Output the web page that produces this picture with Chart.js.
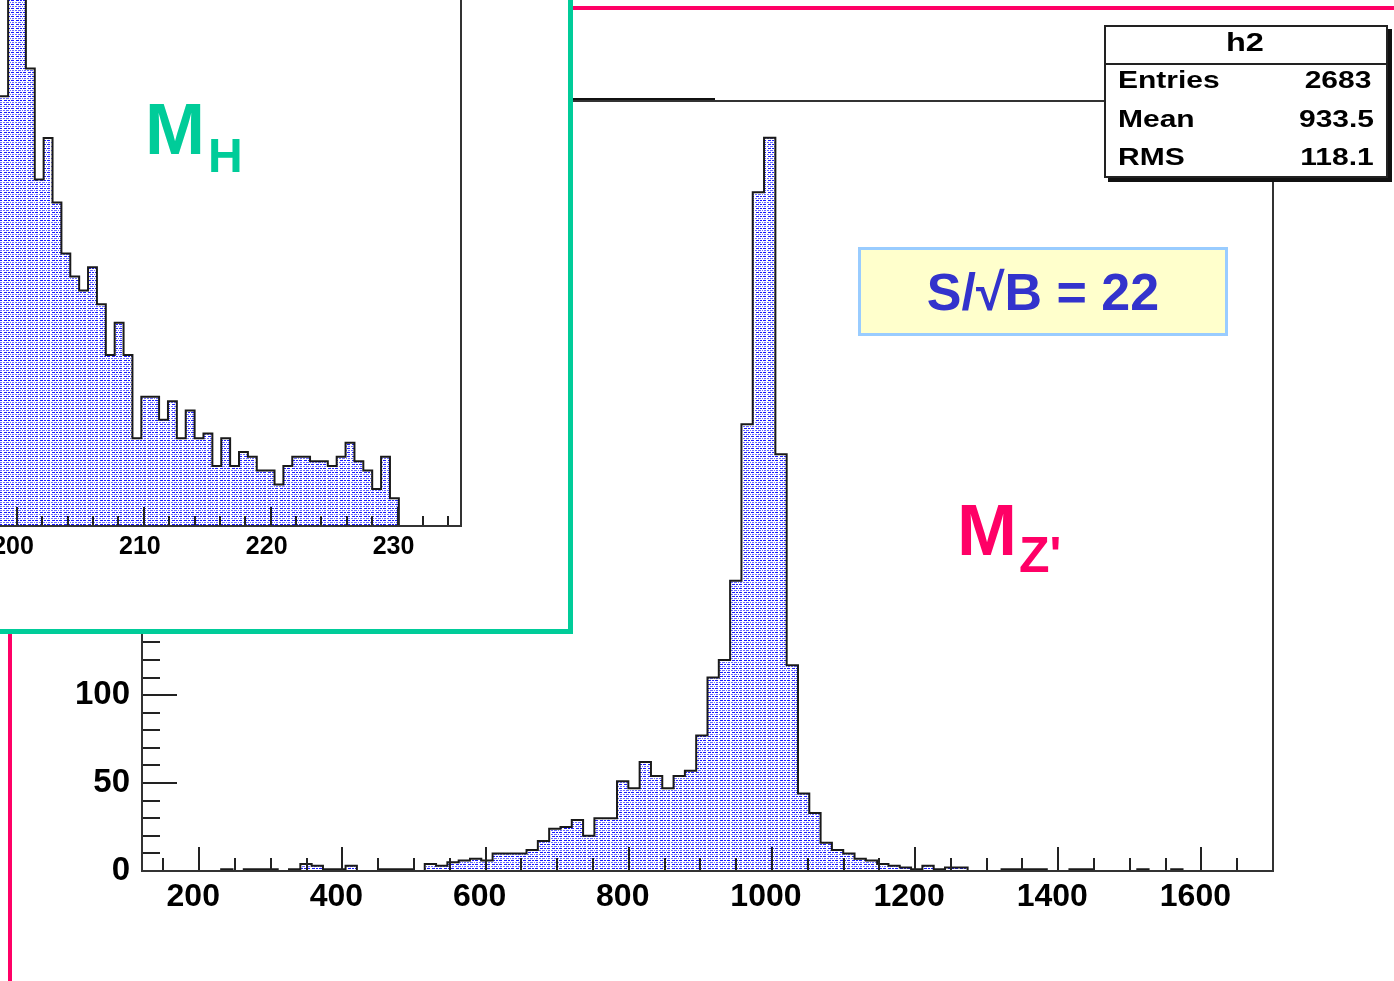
<!DOCTYPE html>
<html>
<head>
<meta charset="utf-8">
<script src="https://cdn.jsdelivr.net/npm/chart.js@4.4.1/dist/chart.umd.min.js"></script>
<style>
  html, body { margin: 0; padding: 0; background: #fff; }
  body { width: 1394px; height: 981px; position: relative; overflow: hidden;
         font-family: 'Liberation Sans', Arial, Helvetica, sans-serif; font-weight: bold; }
  #mainCanvas { position: absolute; left: 0; top: 0; }
  #padBorder { position: absolute; left: 8px; top: 6px; width: 1500px; height: 1100px;
               border-left: 4px solid #ff0066; border-top: 4px solid #ff0066; }
  #frameStub { position: absolute; left: 571px; top: 98px; width: 144px; height: 2px; background: #111; }
  #inset { position: absolute; left: 0; top: 0; width: 568px; height: 629px; background: #fff;
           border-right: 5px solid #00cc99; border-bottom: 5px solid #00cc99; overflow: hidden; }
  #insetCanvas { position: absolute; left: -440px; top: -180px; }
  .txt { position: absolute; white-space: nowrap; line-height: 1; }
  #stats { position: absolute; left: 1104px; top: 25px; width: 280px; height: 149px;
           border: 2px solid #222; background: #fff; box-shadow: 4px 4px 0 0 #111; }
  #statsSep { position: absolute; left: 1104px; top: 63px; width: 284px; height: 2px; background: #222; }
  .st { font-size: 24px; color: #000; }
  .stL { transform: scaleX(1.25); transform-origin: left top; }
  .stR { transform: scaleX(1.25); transform-origin: right top; }
  #sb { position: absolute; left: 858px; top: 247px; width: 364px; height: 83px;
        background: #ffffcc; border: 3px solid #99ccff; display: flex; align-items: center;
        justify-content: center; color: #3333cc; font-size: 52px; }
</style>
</head>
<body>
<canvas id="mainCanvas" width="1394" height="981"></canvas>
<div id="padBorder"></div>
<div id="frameStub"></div>

<div id="stats"></div>
<div id="statsSep"></div>
<div class="txt st stL" style="left:1226px; top:29px; font-size:26px;">h2</div>
<div class="txt st stL" style="left:1118px; top:68px;">Entries</div>
<div class="txt st stR" style="right:23px; top:68px;">2683</div>
<div class="txt st stL" style="left:1118px; top:107px;">Mean</div>
<div class="txt st stR" style="right:20px; top:107px;">933.5</div>
<div class="txt st stL" style="left:1118px; top:145px;">RMS</div>
<div class="txt st stR" style="right:20px; top:145px;">118.1</div>

<div id="sb">S/√B = 22</div>

<div class="txt" style="left:957px; top:494px; font-size:72px; color:#ff0066;">M</div>
<div class="txt" style="left:1019px; top:530px; font-size:50px; color:#ff0066;">Z'</div>

<div id="inset">
  <canvas id="insetCanvas" width="1010" height="812"></canvas>
  <div class="txt" style="left:145px; top:93px; font-size:72px; color:#00cc99;">M</div>
  <div class="txt" style="left:208px; top:132px; font-size:48px; color:#00cc99;">H</div>
</div>

<script>
// ---- main histogram h2: 100 bins over [120, 1700] ----
const mainRange = [120, 1700];
const mainCounts = [
  0, 0, 0, 0, 0, 0, 0, 1, 0, 1,
  1, 1, 0, 1, 4, 3, 1, 1, 3, 0,
  0, 1, 1, 1, 0, 4, 3, 5, 6, 7,
  6, 10, 10, 10, 12, 17, 24, 25, 29, 20,
  30, 30, 51, 47, 62, 54, 47, 54, 57, 77,
  110, 120, 165, 254, 386, 417, 237, 117, 44, 33,
  16, 12, 10, 7, 6, 4, 3, 2, 1, 3,
  1, 2, 2, 0, 0, 0, 1, 1, 1, 1,
  0, 0, 1, 1, 0, 0, 0, 0, 1, 0,
  0, 1, 0, 0, 0, 0, 0, 0, 0, 0
];
const mainXTicks = [200, 400, 600, 800, 1000, 1200, 1400, 1600];
const mainYTicks = [0, 50, 100];

// ---- inset histogram: bins of 0.7 over [165, 235], shown from 198.6 ----
const insetRange = [165, 235];
const insetBinWidth = 0.7;
const insetFirstEdge = 198.6;
const insetCounts = [
  93, 128, 121, 99, 75, 84, 70, 59, 54, 51,
  56, 48, 37, 44, 37, 19, 28, 28, 23, 27,
  19, 25, 19, 20, 13, 19, 13, 16, 15, 12,
  12, 9, 13, 15, 15, 14, 14, 13, 15, 18,
  14, 12, 8, 15, 6, 0, 0, 0, 0, 0,
  0, 0
];
const insetXTicks = [200, 210, 220, 230];
const insetYMax = 150;

const FONT = "'Liberation Sans', Arial, Helvetica, sans-serif";

// blue dashed-line fill used by both histograms
function makeHatch() {
  const c = document.createElement('canvas');
  c.width = 12; c.height = 4;
  const g = c.getContext('2d');
  g.fillStyle = '#ffffff'; g.fillRect(0, 0, 12, 4);
  const rows = [
    ['#1a1aff', 'xxx.xx.xxx..'],
    ['#ffffff', '............'],
    ['#6a6aff', 'x.xxx.x.xx.x'],
    ['#e6e6ff', '..x.....x...']
  ];
  rows.forEach(([col, s], r) => {
    g.fillStyle = col;
    for (let i = 0; i < s.length; i++) if (s[i] === 'x') g.fillRect(i, r, 1, 1);
  });
  return g.createPattern(c, 'repeat');
}

function stepPoints(counts, firstEdge, width) {
  const pts = counts.map((c, i) => ({ x: firstEdge + i * width, y: c }));
  pts.push({ x: firstEdge + counts.length * width, y: 0 });
  return pts;
}

// frame box, inward tick marks and x labels, placed through the chart scales
const rootFrame = {
  id: 'rootFrame',
  afterDatasetsDraw(chart, args, o) {
    const { ctx, chartArea: a, scales: { x, y } } = chart;
    ctx.save();
    ctx.lineWidth = 2;
    ctx.strokeStyle = '#222';
    ctx.beginPath();
    const near = (v, m) => Math.abs(v / m - Math.round(v / m)) < 1e-6;
    for (let v = Math.ceil(x.min / o.xMinor) * o.xMinor; v <= x.max + 1e-9; v += o.xMinor) {
      const px = Math.round(x.getPixelForValue(v));
      const len = near(v, o.xMajor) ? o.xMajorLen : o.xMinorLen;
      ctx.moveTo(px, a.bottom); ctx.lineTo(px, a.bottom - len);
    }
    if (o.yMinor) {
      for (let v = Math.ceil(y.min / o.yMinor) * o.yMinor; v <= y.max + 1e-9; v += o.yMinor) {
        const py = Math.round(y.getPixelForValue(v));
        const len = near(v, o.yMajor) ? o.yMajorLen : o.yMinorLen;
        ctx.moveTo(a.left, py); ctx.lineTo(a.left + len, py);
      }
    }
    ctx.stroke();
    ctx.strokeStyle = '#333';
    ctx.strokeRect(a.left, a.top, a.right - a.left, a.bottom - a.top);

    ctx.fillStyle = '#000';
    ctx.font = 'bold ' + o.labelSize + 'px ' + FONT;
    ctx.textAlign = 'center';
    ctx.textBaseline = 'alphabetic';
    o.xLabels.forEach(v => {
      ctx.fillText(String(v), x.getPixelForValue(v) + o.labelShift, a.bottom + o.labelDrop);
    });
    ctx.restore();
  }
};

const hatch = makeHatch();

// main chart: chart area fixed at x 142..1273, y 101..871
new Chart(document.getElementById('mainCanvas'), {
  type: 'line',
  data: {
    datasets: [{
      data: stepPoints(mainCounts, mainRange[0], (mainRange[1] - mainRange[0]) / mainCounts.length),
      stepped: 'before',
      fill: 'origin',
      backgroundColor: hatch,
      borderColor: '#1a1a1a',
      borderWidth: 2,
      pointRadius: 0,
      tension: 0
    }]
  },
  options: {
    responsive: false,
    animation: false,
    devicePixelRatio: 1,
    layout: { padding: { left: 0, top: 101, right: 121, bottom: 0 } },
    plugins: {
      legend: { display: false },
      tooltip: { enabled: false },
      rootFrame: { xMinor: 50, xMajor: 200, xMajorLen: 24, xMinorLen: 13,
                   yMinor: 10, yMajor: 50, yMajorLen: 35, yMinorLen: 18,
                   xLabels: mainXTicks, labelSize: 32, labelShift: -6, labelDrop: 35 }
    },
    scales: {
      x: {
        type: 'linear', min: mainRange[0], max: mainRange[1],
        grid: { display: false, drawTicks: false },
        border: { display: false },
        afterFit: s => { s.height = 110; },
        ticks: { display: false }
      },
      y: {
        type: 'linear', min: 0, max: Math.max(...mainCounts) * 1.05,
        grid: { display: false, drawTicks: false },
        border: { display: false },
        afterFit: s => { s.width = 142; },
        ticks: {
          stepSize: 50, includeBounds: false, padding: 12, color: '#000',
          font: { family: FONT, size: 33, weight: 'bold' },
          callback: v => mainYTicks.includes(v) ? String(v) : null
        }
      }
    }
  },
  plugins: [rootFrame]
});

// inset chart: chart area in canvas coords x 13..901, y 13..706
new Chart(document.getElementById('insetCanvas'), {
  type: 'line',
  data: {
    datasets: [{
      data: stepPoints(insetCounts, insetFirstEdge, insetBinWidth),
      stepped: 'before',
      fill: 'origin',
      backgroundColor: hatch,
      borderColor: '#1a1a1a',
      borderWidth: 2,
      pointRadius: 0,
      tension: 0
    }]
  },
  options: {
    responsive: false,
    animation: false,
    devicePixelRatio: 1,
    layout: { padding: { left: 13, top: 13, right: 109, bottom: 0 } },
    plugins: {
      legend: { display: false },
      tooltip: { enabled: false },
      rootFrame: { xMinor: 2, xMajor: 10, xMajorLen: 19, xMinorLen: 10,
                   xLabels: insetXTicks, labelSize: 25, labelShift: -4, labelDrop: 28 }
    },
    scales: {
      x: {
        type: 'linear', min: insetRange[0], max: insetRange[1],
        grid: { display: false, drawTicks: false },
        border: { display: false },
        afterFit: s => { s.height = 106; },
        ticks: { display: false }
      },
      y: {
        type: 'linear', min: 0, max: insetYMax, display: false
      }
    }
  },
  plugins: [rootFrame]
});
</script>
</body>
</html>
